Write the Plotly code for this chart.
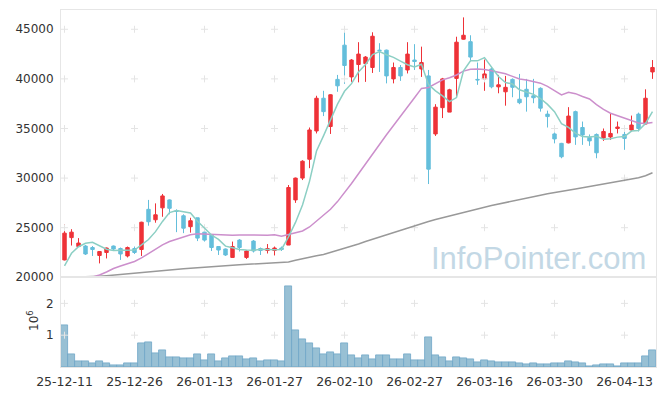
import plotly.graph_objects as go

dates = ["25-12-11","25-12-12","25-12-15","25-12-16","25-12-17","25-12-18","25-12-19","25-12-22","25-12-23","25-12-24",
         "25-12-26","25-12-29","25-12-30","26-01-02","26-01-05","26-01-06","26-01-07","26-01-08","26-01-09","26-01-12",
         "26-01-13","26-01-14","26-01-15","26-01-16","26-01-19","26-01-20","26-01-21","26-01-22","26-01-23","26-01-26",
         "26-01-27","26-01-28","26-01-29","26-01-30","26-02-02","26-02-03","26-02-04","26-02-05","26-02-06","26-02-09",
         "26-02-10","26-02-11","26-02-12","26-02-13","26-02-19","26-02-20","26-02-23","26-02-24","26-02-25","26-02-26",
         "26-02-27","26-03-03","26-03-04","26-03-05","26-03-06","26-03-09","26-03-10","26-03-11","26-03-12","26-03-13",
         "26-03-16","26-03-17","26-03-18","26-03-19","26-03-20","26-03-23","26-03-24","26-03-25","26-03-26","26-03-27",
         "26-03-30","26-03-31","26-04-01","26-04-02","26-04-03","26-04-06","26-04-07","26-04-08","26-04-09","26-04-10",
         "26-04-13","26-04-14","26-04-15","26-04-16","26-04-17"]

open_ = [21750,24000,23100,23150,23000,22200,22500,23150,22900,22150,
         22900,22800,26850,25800,27000,27800,26700,26200,25100,26000,
         24550,24250,23100,22850,22000,23750,22000,23650,22900,22700,
         22700,22950,23250,27800,30000,31900,34750,38050,35200,39950,
         43400,40200,41450,41550,41150,42900,42900,40000,41150,40900,
         41900,41000,40300,34450,37100,36650,40050,44000,43750,39950,
         40000,41000,39200,38700,39950,37950,38950,38300,39050,36450,
         34450,33500,33550,36700,35100,34100,34400,34050,34150,35000,
         34400,34850,36450,35450,40700]
high = [25350,24850,23950,23250,23150,22650,23000,23200,23000,23100,
        23100,25600,27800,27450,28400,27850,26850,26350,26000,26000,
        24600,24300,23150,22900,23600,23850,22750,23750,23000,23350,
        23100,23100,29300,30050,31800,35100,38300,38800,38450,40400,
        45100,42000,43700,42300,44700,43600,42950,41650,41400,43700,
        43500,43250,40900,37450,40100,39000,44250,46200,44400,41650,
        41950,41150,40400,40300,40050,40500,40000,40000,39150,36800,
        34600,33550,37150,36800,35700,34400,34500,35000,36550,35700,
        35000,36300,36600,38950,41900]
low = [21700,23200,23050,22250,22150,21400,21900,22700,21750,22000,
       22350,22150,25200,25500,26100,26350,24550,24450,24500,23650,
       23600,22650,22250,22150,22000,22600,21850,22500,22250,22400,
       22200,22650,23250,27500,29800,31000,34500,36250,34450,38700,
       39500,39700,39650,39700,40600,40700,39550,39550,39800,40550,
       40900,40200,29400,34250,36050,36650,38250,43950,41750,39400,
       38800,39050,38550,37300,38150,37450,36700,37550,36700,35100,
       33500,32000,33500,33350,33350,33250,32000,33750,33850,34500,
       32850,34700,34700,35400,40000]
close = [24450,24550,23450,22350,22800,22600,22950,22850,22350,23000,
         22500,25550,25600,26300,28200,26950,26650,24950,25700,23950,
         23750,23000,22750,22250,23100,23000,22650,22650,22700,22900,
         22950,22800,29050,30000,31700,34850,38050,36700,38400,39300,
         41350,41900,42500,42200,44300,42850,40300,41150,40300,42500,
         41750,41650,30900,37150,40000,38900,43700,44400,42200,39900,
         40500,39200,39400,39150,39150,37600,38200,38100,37050,36200,
         33950,32150,36250,34150,34350,33750,32550,34700,34500,35150,
         34000,35350,35000,38050,41150]

ma5 = [21140,22420,23080,23430,23520,23150,22830,22710,22710,22750,
       22740,23260,23810,24600,25630,26520,26740,26610,26490,25640,
       25000,24260,23820,23140,22970,22810,22740,22720,22820,22790,
       22780,22810,24080,25530,27290,29670,32730,34260,35940,37450,
       38750,39520,40690,41450,42450,42750,42430,42170,41800,41430,
       41210,41470,39420,38790,38280,37710,38120,40820,41830,41820,
       42140,41250,40240,39630,39480,38900,38700,38440,38020,37430,
       36700,35490,35120,34540,34180,34140,34220,33910,33970,34130,
       34180,34740,34800,35510,36710]
ma20 = [19500,19650,19800,19960,20030,20230,20530,20890,21140,21390,
        21590,21950,22400,22850,23260,23610,23860,24110,24290,24380,
        24350,24270,24240,24230,24250,24270,24250,24240,24260,24250,
        24280,24140,24310,24490,24670,25070,25640,26220,26860,27630,
        28500,29450,30440,31430,32500,33490,34370,35300,36180,37160,
        38100,39040,39130,39490,39900,40110,40390,40780,40970,41000,
        40950,40820,40660,40510,40250,39990,39890,39730,39570,39250,
        38860,38390,38660,38510,38220,37970,37410,36930,36540,36300,
        35980,35780,35560,35510,35610]
ma120 = [19980,19990,20010,20020,20030,20100,20160,20230,20300,20360,
         20430,20500,20560,20620,20680,20740,20800,20860,20920,20980,
         21040,21100,21160,21180,21220,21260,21300,21340,21380,21420,
         21460,21500,21540,21710,21880,22050,22180,22300,22500,22700,
         22900,23130,23360,23600,23830,24060,24290,24530,24760,24990,
         25220,25440,25630,25820,26010,26190,26380,26560,26740,26910,
         27070,27230,27390,27550,27710,27870,28000,28150,28280,28410,
         28550,28670,28790,28910,29030,29150,29270,29400,29530,29650,
         29770,29900,30040,30230,30540]
volume_m = [1.31,0.40,0.19,0.19,0.12,0.18,0.12,0.05,0.05,0.12,
            0.12,0.75,0.78,0.43,0.53,0.31,0.31,0.27,0.27,0.40,
            0.21,0.40,0.18,0.27,0.34,0.34,0.24,0.27,0.18,0.21,
            0.21,0.18,2.55,1.16,0.87,0.75,0.59,0.40,0.46,0.40,
            0.75,0.37,0.27,0.37,0.24,0.37,0.37,0.24,0.24,0.40,
            0.21,0.21,0.94,0.37,0.31,0.18,0.31,0.27,0.24,0.15,
            0.21,0.18,0.15,0.15,0.15,0.12,0.085,0.12,0.085,0.085,
            0.12,0.12,0.18,0.15,0.12,0.02,0.054,0.085,0.085,0.02,
            0.12,0.12,0.12,0.34,0.53]

price_ticks = [20000, 25000, 30000, 35000, 40000, 45000]
price_tick_labels = ["20000", "25000", "30000", "35000", "40000", "45000"]
vol_ticks = [1, 2]
vol_tick_labels = ["1", "2"]
tick_idx = list(range(0, len(dates), 10))
tick_labels = [dates[i] for i in tick_idx]

idx = list(range(len(dates)))
RED = "#ee3238"
BLUE = "#64bedb"
GRID = "#e4e4e4"
FRAME = "#e6e6e6"
FONT = "DejaVu Sans"

fig = go.Figure()

# grid crosses
fig.add_trace(go.Scatter(
    x=[i for i in tick_idx for _ in price_ticks[1:]],
    y=[v for _ in tick_idx for v in price_ticks[1:]],
    mode="markers", marker=dict(symbol="cross-thin", size=5, line=dict(color=GRID, width=1)),
    hoverinfo="skip", showlegend=False, xaxis="x", yaxis="y", cliponaxis=False))
fig.add_trace(go.Scatter(
    x=[i for i in tick_idx for _ in vol_ticks],
    y=[v for _ in tick_idx for v in vol_ticks],
    mode="markers", marker=dict(symbol="cross-thin", size=5, line=dict(color=GRID, width=1)),
    hoverinfo="skip", showlegend=False, xaxis="x2", yaxis="y2", cliponaxis=False))

fig.add_trace(go.Candlestick(
    x=idx, open=open_, high=high, low=low, close=close,
    increasing=dict(line=dict(color=RED, width=1), fillcolor=RED),
    decreasing=dict(line=dict(color=BLUE, width=1), fillcolor=BLUE),
    whiskerwidth=0, showlegend=False, xaxis="x", yaxis="y"))

fig.add_trace(go.Scatter(x=idx, y=ma120, mode="lines", line=dict(color="#999999", width=1.5),
                         showlegend=False, xaxis="x", yaxis="y"))
fig.add_trace(go.Scatter(x=idx, y=ma20, mode="lines", line=dict(color="#cc8fcc", width=1.5),
                         showlegend=False, xaxis="x", yaxis="y"))
fig.add_trace(go.Scatter(x=idx, y=ma5, mode="lines", line=dict(color="#8ccfc4", width=1.5),
                         showlegend=False, xaxis="x", yaxis="y"))

fig.add_trace(go.Bar(x=idx, y=volume_m, marker=dict(color="#98c0d4", line=dict(color="#6fa6c6", width=0.8)),
                     showlegend=False, xaxis="x2", yaxis="y2"))

# page body has an 8px default margin: size the figure so the plot lands where the reference has it
split = 0.2513
axis_common = dict(showgrid=False, zeroline=False, showline=True, linecolor=FRAME, linewidth=1, mirror=True,
                   automargin=False)
fig.update_layout(
    width=657, height=388,
    margin=dict(l=53, r=9, t=2, b=29),
    paper_bgcolor="white", plot_bgcolor="white",
    font=dict(family=FONT, size=12, color="#333333"),
    bargap=0, boxgap=0.3,
    xaxis=dict(domain=[0, 1], range=[-0.5, len(dates) - 0.5], anchor="y", showticklabels=False,
               rangeslider=dict(visible=False), **axis_common),
    yaxis=dict(domain=[split, 1], range=[20000, 46945], tickvals=price_ticks, ticktext=price_tick_labels,
               ticks="outside", ticklen=4, tickcolor="rgba(0,0,0,0)", tickfont=dict(size=12), **axis_common),
    xaxis2=dict(domain=[0, 1], range=[-0.5, len(dates) - 0.5], anchor="y2", tickvals=tick_idx, ticktext=tick_labels,
                ticks="outside", ticklen=3, tickcolor="rgba(0,0,0,0)", tickfont=dict(size=12.5), **axis_common),
    yaxis2=dict(domain=[0, split], range=[0, 2.82], tickvals=vol_ticks, ticktext=vol_tick_labels,
                ticks="outside", ticklen=4, tickcolor="rgba(0,0,0,0)", tickfont=dict(size=12), **axis_common),
    annotations=[
        dict(text="10<sup>6</sup>", xref="paper", yref="paper", x=-0.047, y=0.129, textangle=-90,
             showarrow=False, xanchor="center", yanchor="middle", font=dict(size=12, color="#333333")),
        dict(text="InfoPointer.com", xref="paper", yref="paper", x=0.802, y=0.305,
             showarrow=False, xanchor="center", yanchor="middle",
             font=dict(family="Liberation Sans", size=31, color="#c3d8e5")),
    ],
)

fig.write_html("out.html")
